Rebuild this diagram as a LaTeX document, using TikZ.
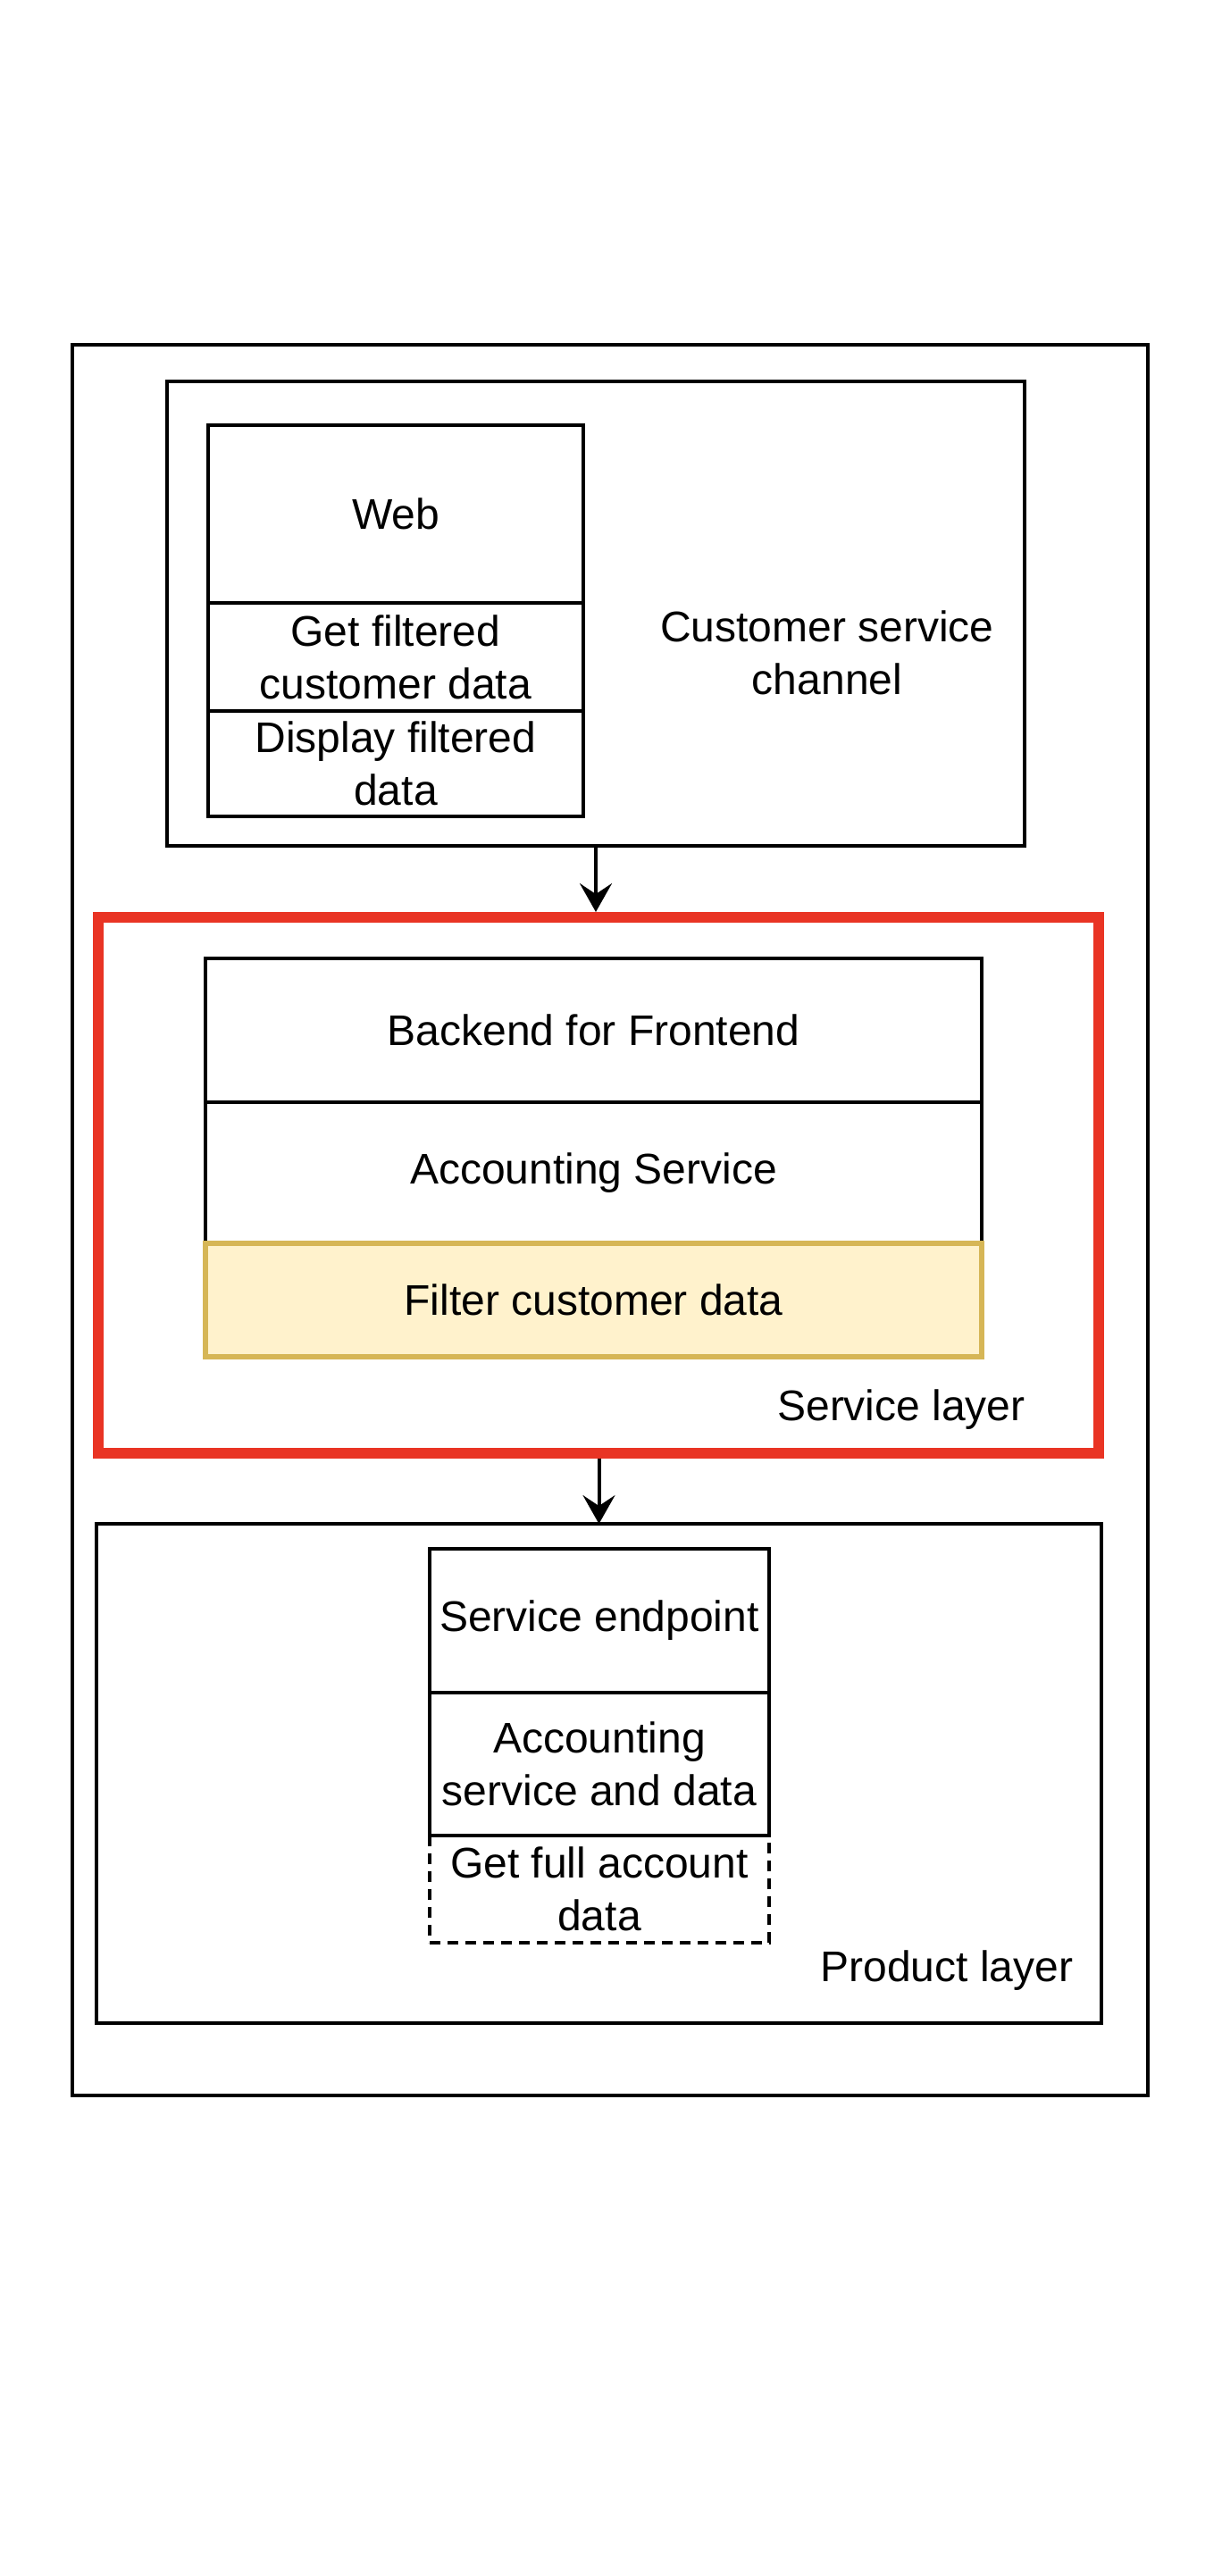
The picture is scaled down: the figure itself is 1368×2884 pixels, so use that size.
\documentclass[tikz,border=0pt]{standalone}
\usepackage{fontspec}
\setmainfont{Liberation Sans}
\usepackage{tikz}
\usetikzlibrary{arrows.meta}
\definecolor{layerred}{RGB}{233,52,36}
\definecolor{noteyellow}{RGB}{255,242,204}
\definecolor{noteborder}{RGB}{214,182,86}
\newcommand{\widthweb}{210pt}
\newcommand{\widthbff}{434.5pt}
\newcommand{\widthendpoint}{190pt}
\tikzset{
    common/.style={anchor=north west, draw, rectangle, line width=2pt, inner sep=0pt, outer sep=0pt,
        align=center, font=\fontsize{24}{29.5}\selectfont},
    container/.style={common},
    webcell/.style={common, minimum width=\widthweb},
    bffcell/.style={common, minimum width=\widthbff},
    endcell/.style={common, minimum width=\widthendpoint},
    redlayer/.style={container, draw=layerred, line width=6pt},
    filtercell/.style={bffcell, draw=noteborder, fill=noteyellow, line width=3pt},
    dashcell/.style={endcell, dash pattern=on 6pt off 4pt},
    caption/.style={align=center, font=\fontsize{24}{29.5}\selectfont},
    flow/.style={-{Stealth[length=16pt, width=18pt, inset=6pt]}, line width=2pt}
}

\begin{document}
\begin{tikzpicture}[x=0.5pt, y=-0.5pt]
    \path[fill=white, use as bounding box] (0,0) rectangle (1368,2884);

    % layers
    \node[container, minimum width=602pt, minimum height=980pt] (outer) at (81,386) {};
    \node[container, minimum width=480pt, minimum height=260pt] (channel) at (187,427) {};
    \node[redlayer, minimum width=560pt, minimum height=300pt] (service) at (110,1027) {};
    \node[container, minimum width=562.5pt, minimum height=279.5pt] (product) at (108,1706) {};

    % customer service channel
    \path (233,476) node[webcell, minimum height=99.5pt] (web) {Web}
        (web.south west) node[webcell, minimum height=60.5pt] (getfiltered) {Get filtered\\customer data}
        (getfiltered.south west) node[webcell, minimum height=59pt] (display) {Display filtered\\data};
    \node[caption] (channel-label) at (926,731) {Customer service\\channel};

    % service layer
    \path (230,1073) node[bffcell, minimum height=80.5pt] (bff) {Backend for Frontend}
        (bff.south west) node[bffcell, minimum height=79.5pt] (accounting) {Accounting Service}
        (230,1392) node[filtercell, minimum height=63.5pt] (filter) {Filter customer data};
    \node[caption] (service-label) at (1009,1578) {Service layer};

    % product layer
    \path (481,1734) node[endcell, minimum height=80.5pt] (endpoint) {Service endpoint}
        (endpoint.south west) node[endcell, minimum height=80pt] (accdata) {Accounting\\service and data}
        (accdata.south west) node[dashcell, minimum height=60pt] (fulldata) {Get full account\\data};
    \node[caption] (product-label) at (1060,2206) {Product layer};

    \draw[flow, shorten >=3pt] (channel.south) -- (channel.south |- service.north);
    \draw[flow, shorten <=3pt] (service.south -| product.north) -- (product.north);
\end{tikzpicture}
\end{document}
